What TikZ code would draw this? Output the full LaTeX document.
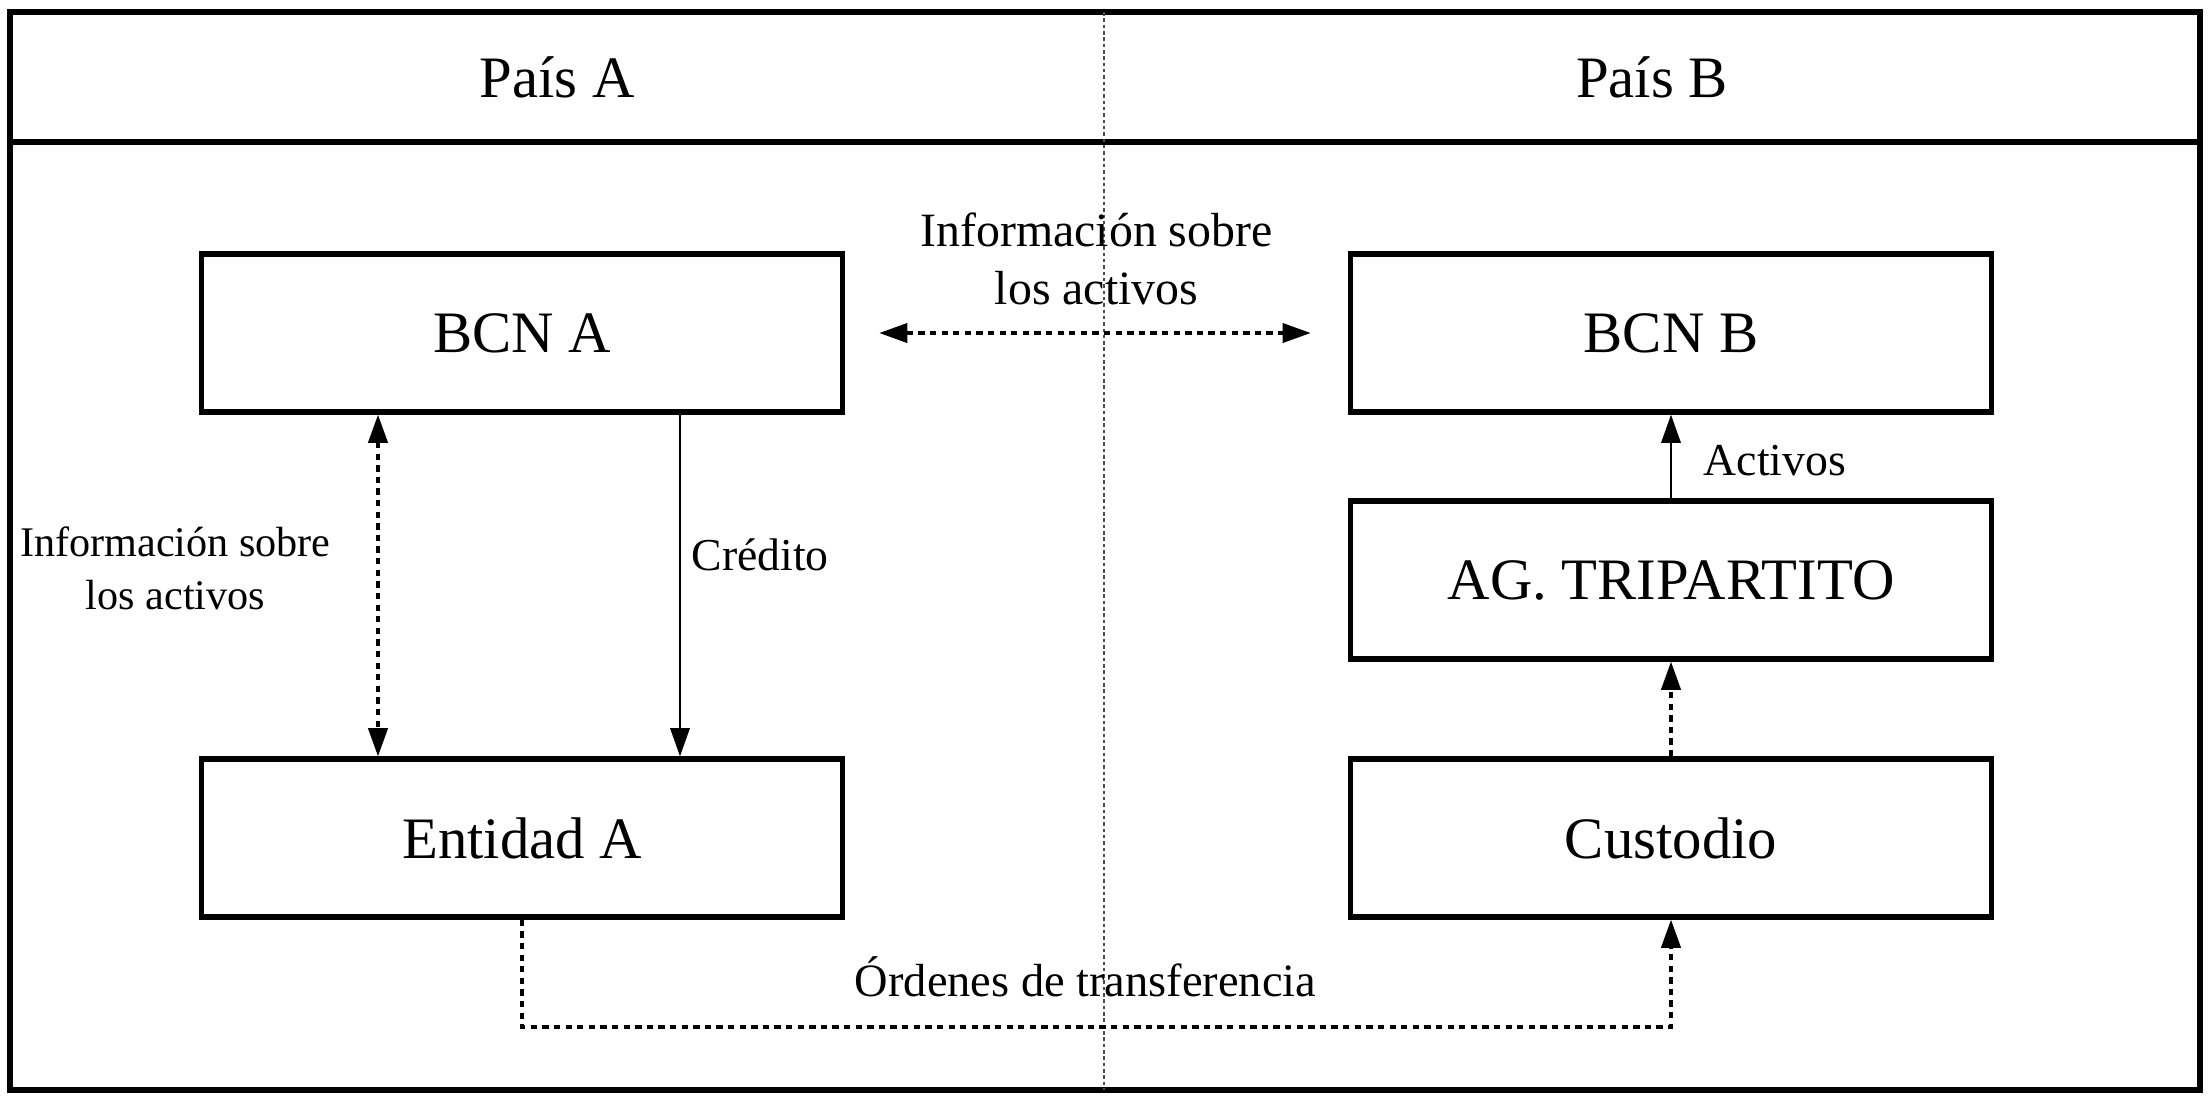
\documentclass[tikz,border=0pt]{standalone}
\usepackage{fontspec}
\setmainfont{Liberation Serif}
\usetikzlibrary{arrows.meta}

\begin{document}
\begin{tikzpicture}[x=0.01cm, y=-0.01cm, >={Triangle[length=8pt,width=5.5pt]},
    box/.style={draw, line width=1.5pt, minimum width=6.41cm, minimum height=1.58cm, font=\fontsize{16.7}{20}\selectfont},
    head/.style={font=\fontsize{16.7}{20}\selectfont},
    lbl/.style={font=\fontsize{13}{13.6}\selectfont, align=center, inner sep=2pt},
    flow/.style={line width=0.6pt},
    info/.style={line width=0.9pt, dash pattern=on 1.8pt off 1.5pt}]
  \useasboundingbox (0,0) rectangle (2211,1099);

  % Frame with the two countries
  \draw[line width=1.5pt] (10,12) rectangle (2200,1090);
  \draw[line width=1.5pt] (10,142) -- (2200,142);
  \draw[line width=0.6pt, black!70, dash pattern=on 1pt off 0.8pt] (1104,12) -- (1104,1090);
  \node[head] (paisA) at (557,77) {País A};
  \node[head] (paisB) at (1652,77) {País B};

  % Country A
  \node[box] (bcnA) at (522,333) {BCN A};
  \node[box] (entA) at (522,838) {Entidad A};

  % Country B
  \node[box] (bcnB) at (1671,333) {BCN B};
  \node[box] (agt) at (1671,580) {AG. TRIPARTITO};
  \node[box] (cust) at (1671,838) {Custodio};

  % Information flows (dashed)
  \draw[info, <->] (bcnA.east) -- node[lbl, above=5.5pt, font=\fontsize{13.6}{16.5}\selectfont] {Información sobre\\los activos} (bcnB.west)
    [shorten <=0.34cm, shorten >=0.37cm];
  \draw[info, <->] (bcnA.south -| 378,0) -- node[lbl, left=11pt, pos=0.45, font=\fontsize{12}{15}\selectfont] {Información sobre\\los activos} (entA.north -| 378,0);
  \draw[info, ->] (cust.north) -- (agt.south);

  % Credit and assets (solid)
  \draw[flow, ->] (bcnA.south -| 680,0) -- node[lbl, right=1pt, pos=0.41] {Crédito} (entA.north -| 680,0);
  \draw[flow, ->] (agt.north) -- node[lbl, right=7pt, pos=0.45] {Activos} (bcnB.south);

  % Transfer orders
  \coordinate (ordL) at (522,1027);
  \coordinate (ordR) at (1671,1027);
  \draw[info, ->] (entA.south) -- (ordL) -- node[lbl, above=6pt, xshift=-0.11cm, font=\fontsize{13.2}{14}\selectfont] {Órdenes de transferencia} (ordR) -- (cust.south);
\end{tikzpicture}
\end{document}
